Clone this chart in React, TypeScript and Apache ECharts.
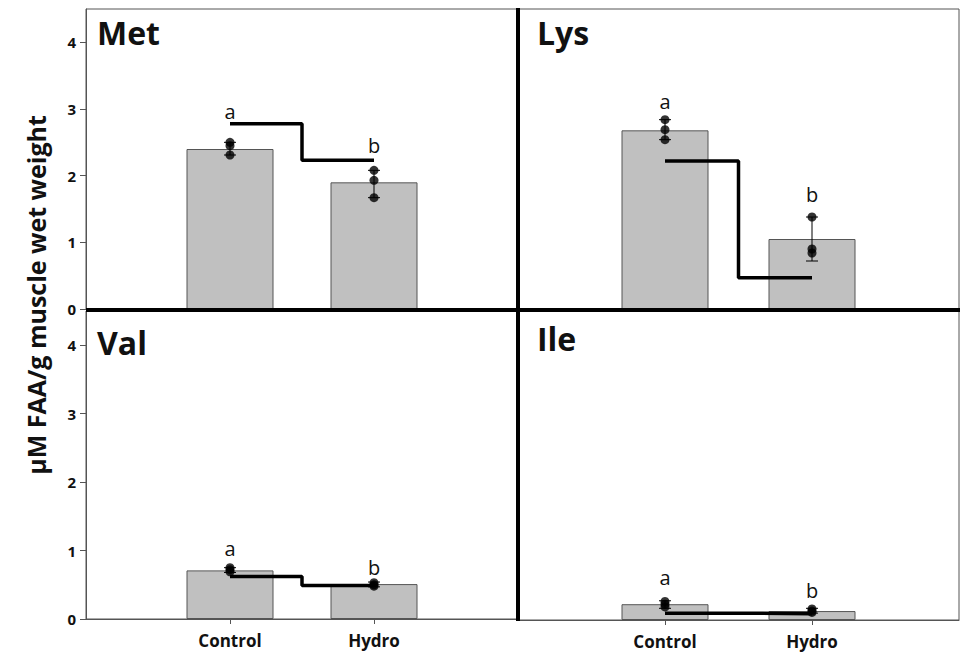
import React, { useEffect, useRef } from 'react';
import * as echarts from 'echarts';

// ---------- data ----------
const categories = ['Control', 'Hydro'];
const panelNames = ['Met', 'Lys', 'Val', 'Ile'];
const yTicks = [0, 1, 2, 3, 4];
const xPositions = [1, 2];

const metMeans = [2.4, 1.9];
const lysMeans = [2.68, 1.05];
const valMeans = [0.71, 0.51];
const ileMeans = [0.23, 0.13];

const metErr = [[2.31, 2.5], [1.67, 2.08]];
const lysErr = [[2.54, 2.84], [0.72, 1.38]];
const valErr = [[0.68, 0.75], [0.47, 0.54]];
const ileErr = [[0.17, 0.28], [0.1, 0.17]];

const metPoints = [[2.5, 2.45, 2.31], [2.08, 1.93, 1.67]];
const lysPoints = [[2.84, 2.69, 2.54], [1.38, 0.9, 0.84]];
const valPoints = [[0.75, 0.72, 0.69], [0.53, 0.5, 0.48]];
const ilePoints = [[0.27, 0.23, 0.19], [0.16, 0.13, 0.11]];

// significance step line (left level, right level)
const metSig = [2.78, 2.23];
const lysSig = [2.22, 0.47];
const valSig = [0.62, 0.49];
const ileSig = [0.1, 0.09];

const letters = ['a', 'b'];
const metLetterY = [2.96, 2.46];
const lysLetterY = [3.12, 1.72];
const valLetterY = [1.03, 0.75];
const ileLetterY = [0.62, 0.43];

const yLabel = 'μM FAA/g muscle wet weight';

// ---------- layout ----------
const FONT = '"Open Sans", "DejaVu Sans", sans-serif';
const grids = [
  { left: 86, top: 9, width: 432, height: 300 },
  { left: 518, top: 9, width: 441, height: 300 },
  { left: 86, top: 311, width: 432, height: 308 },
  { left: 518, top: 311, width: 441, height: 309 },
];
const titlePos = [
  [97, 32],
  [537, 32],
  [97, 342],
  [537, 338],
];

const allMeans = [metMeans, lysMeans, valMeans, ileMeans];
const allErr = [metErr, lysErr, valErr, ileErr];
const allPoints = [metPoints, lysPoints, valPoints, ilePoints];
const allSig = [metSig, lysSig, valSig, ileSig];
const allLetterY = [metLetterY, lysLetterY, valLetterY, ileLetterY];

export default function App() {
  const ref = useRef<HTMLDivElement>(null);
  useEffect(() => {
    if (!ref.current) return;
    const chart = echarts.init(ref.current, undefined, { renderer: 'svg' });

    const xAxes: any[] = [];
    const yAxes: any[] = [];
    const series: any[] = [];

    panelNames.forEach((_, i) => {
      const isBottom = i >= 2;
      const isLeft = i % 2 === 0;
      xAxes.push({
        type: 'value',
        gridIndex: i,
        min: 0,
        max: 3,
        splitLine: { show: false },
        axisLine: { show: isBottom, lineStyle: { color: '#555', width: 1 } },
        axisTick: {
          show: isBottom,
          customValues: xPositions,
          inside: false,
          length: 5,
          lineStyle: { color: '#555' },
        },
        axisLabel: {
          show: isBottom,
          customValues: xPositions,
          formatter: (v: number) => categories[Math.round(v) - 1] ?? '',
          margin: 13,
          fontFamily: FONT,
          fontWeight: 'bold',
          fontSize: 17,
          color: '#111',
        },
      });
      yAxes.push({
        type: 'value',
        gridIndex: i,
        min: 0,
        max: 4.5,
        interval: 1,
        splitLine: { show: false },
        axisLine: { show: isLeft, lineStyle: { color: '#555', width: 1 } },
        axisTick: {
          show: isLeft,
          customValues: yTicks,
          inside: false,
          length: 6,
          lineStyle: { color: '#555' },
        },
        axisLabel: {
          show: isLeft,
          customValues: yTicks,
          margin: 10,
          fontFamily: FONT,
          fontWeight: 'bold',
          fontSize: 15,
          color: '#111',
        },
      });

      series.push({
        type: 'bar',
        xAxisIndex: i,
        yAxisIndex: i,
        barWidth: 87,
        z: 2,
        data: xPositions.map((x, k) => [x, allMeans[i][k]]),
        itemStyle: { color: '#c0c0c0', borderColor: '#555', borderWidth: 1 },
      });
      series.push({
        type: 'line',
        xAxisIndex: i,
        yAxisIndex: i,
        step: 'middle',
        symbol: 'none',
        z: 3,
        data: xPositions.map((x, k) => [x, allSig[i][k]]),
        lineStyle: { color: '#000', width: 3.5 },
      });
      series.push({
        type: 'custom',
        xAxisIndex: i,
        yAxisIndex: i,
        z: 4,
        data: xPositions.map((x, k) => [x, allErr[i][k][0], allErr[i][k][1]]),
        encode: { x: 0, y: [1, 2] },
        renderItem: (params: any, api: any) => {
          const x = api.value(0);
          const lo = api.coord([x, api.value(1)]);
          const hi = api.coord([x, api.value(2)]);
          const c = 6;
          const st = { stroke: '#000', lineWidth: 1 };
          return {
            type: 'group',
            children: [
              { type: 'line', shape: { x1: lo[0], y1: lo[1], x2: hi[0], y2: hi[1] }, style: st },
              { type: 'line', shape: { x1: lo[0] - c, y1: lo[1], x2: lo[0] + c, y2: lo[1] }, style: st },
              { type: 'line', shape: { x1: hi[0] - c, y1: hi[1], x2: hi[0] + c, y2: hi[1] }, style: st },
            ],
          };
        },
      });
      const pts: number[][] = [];
      xPositions.forEach((x, k) => allPoints[i][k].forEach((v) => pts.push([x, v])));
      series.push({
        type: 'scatter',
        xAxisIndex: i,
        yAxisIndex: i,
        z: 5,
        symbolSize: 9,
        data: pts,
        itemStyle: { color: '#000' },
      });
      series.push({
        type: 'custom',
        xAxisIndex: i,
        yAxisIndex: i,
        z: 6,
        data: xPositions.map((x, k) => [x, allLetterY[i][k]]),
        renderItem: (params: any, api: any) => {
          const p = api.coord([api.value(0), api.value(1)]);
          return {
            type: 'text',
            x: p[0],
            y: p[1],
            style: {
              text: letters[params.dataIndex],
              fontFamily: FONT,
              fontSize: 20,
              fill: '#111',
              align: 'center',
              verticalAlign: 'middle',
            },
          };
        },
      });
    });

    const divX = grids[0].left + grids[0].width;
    const divY = grids[0].top + grids[0].height;

    const graphic: any[] = [
      {
        type: 'line',
        z: 100,
        shape: { x1: divX, y1: 8, x2: divX, y2: grids[3].top + grids[3].height + 1 },
        style: { stroke: '#000', lineWidth: 4 },
      },
      {
        type: 'line',
        z: 100,
        shape: { x1: grids[0].left, y1: divY + 1, x2: grids[1].left + grids[1].width + 1, y2: divY + 1 },
        style: { stroke: '#000', lineWidth: 4 },
      },
      {
        type: 'text',
        x: 36,
        y: 295,
        rotation: Math.PI / 2,
        style: {
          text: yLabel,
          fontFamily: FONT,
          fontWeight: 'bold',
          fontSize: 25,
          fill: '#111',
          align: 'center',
          verticalAlign: 'middle',
        },
      },
      ...panelNames.map((name, i) => ({
        type: 'text',
        x: titlePos[i][0],
        y: titlePos[i][1],
        style: {
          text: name,
          fontFamily: FONT,
          fontWeight: 'bold',
          fontSize: 32,
          fill: '#111',
          align: 'left',
          verticalAlign: 'middle',
        },
      })),
    ];

    chart.setOption({
      animation: false,
      backgroundColor: '#fff',
      grid: grids.map((g) => ({ ...g, show: true, borderColor: '#555', borderWidth: 1, backgroundColor: 'transparent' })),
      xAxis: xAxes,
      yAxis: yAxes,
      series,
      graphic,
    });
    return () => chart.dispose();
  }, []);
  return (
    <div
      ref={ref}
      style={{ position: 'fixed', left: 0, top: 0, width: 961, height: 660, background: '#fff' }}
    />
  );
}
